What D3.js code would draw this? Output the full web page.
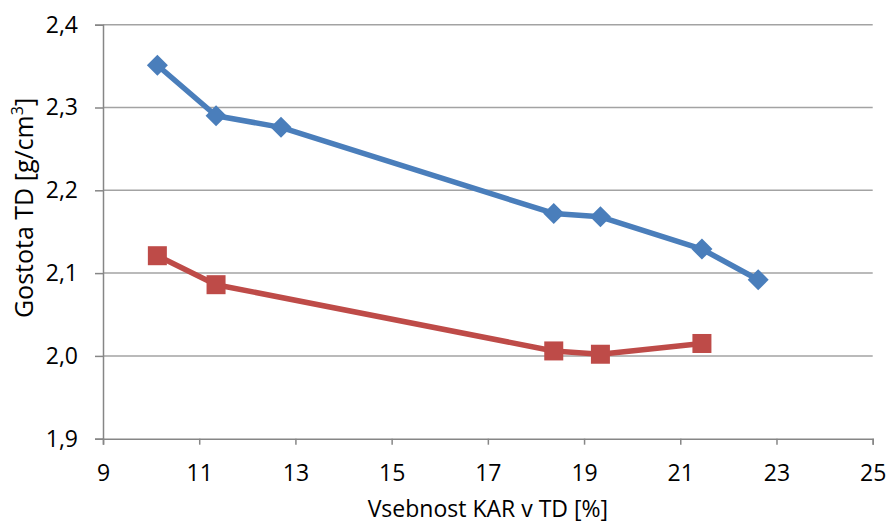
<!DOCTYPE html>
<html>
<head>
<meta charset="utf-8">
<script src="https://cdn.jsdelivr.net/npm/d3@7"></script>
<style>
  html, body { margin: 0; padding: 0; background: #fff; }
  svg { display: block; }
  text { font-family: "Open Sans", "Noto Sans", sans-serif; fill: #000; }
</style>
</head>
<body>
<svg id="chart" width="888" height="525"></svg>
<script>
// KAR content in TD [%] and density [g/cm3]
const seriesAX = [10.13, 11.35, 12.70, 18.37, 19.34, 21.45, 22.62];
const seriesAY = [2.351, 2.290, 2.276, 2.172, 2.168, 2.129, 2.092];
const seriesBX = [10.13, 11.35, 18.37, 19.34, 21.45];
const seriesBY = [2.121, 2.086, 2.006, 2.002, 2.015];
const xTicks = [9, 11, 13, 15, 17, 19, 21, 23, 25];
const yTicks = [1.9, 2.0, 2.1, 2.2, 2.3, 2.4];
const xTitle = "Vsebnost KAR v TD [%]";
const yTitle = "Gostota TD [g/cm";

const margin = { top: 24.7, right: 15.3, bottom: 86.3, left: 103 };
const W = 888, H = 525;
const iw = W - margin.left - margin.right;
const ih = H - margin.top - margin.bottom;

const svg = d3.select("#chart");
const g = svg.append("g").attr("transform", `translate(${margin.left},${margin.top})`);

const x = d3.scaleLinear().domain([9, 25]).range([0, iw]);
const y = d3.scaleLinear().domain([1.9, 2.4]).range([ih, 0]);
const fmt = d => d3.format(".1f")(d).replace(".", ",");

// horizontal gridlines
g.append("g").selectAll("line")
  .data(yTicks.filter(t => t > 1.9))
  .join("line")
  .attr("x1", 0).attr("x2", iw)
  .attr("y1", d => y(d)).attr("y2", d => y(d))
  .attr("stroke", "#a3a3a3").attr("stroke-width", 1.5);

// y axis
const yAxis = g.append("g")
  .call(d3.axisLeft(y).tickValues(yTicks).tickFormat(fmt).tickSize(8).tickPadding(17));
yAxis.select(".domain").attr("stroke", "#868686").attr("stroke-width", 1.5);
yAxis.selectAll(".tick line").attr("stroke", "#868686").attr("stroke-width", 1.5);
yAxis.selectAll(".tick text").attr("font-size", 23).attr("font-family", "Open Sans").attr("fill", "#000");

// x axis
const xAxis = g.append("g").attr("transform", `translate(0,${ih})`)
  .call(d3.axisBottom(x).tickValues(xTicks).tickFormat(d3.format("d")).tickSize(6).tickPadding(20));
xAxis.select(".domain").attr("stroke", "#868686").attr("stroke-width", 1.5);
xAxis.selectAll(".tick line").attr("stroke", "#868686").attr("stroke-width", 1.5);
xAxis.selectAll(".tick text").attr("font-size", 23).attr("font-family", "Open Sans").attr("fill", "#000");

// series
const line = d3.line().x(d => x(d[0])).y(d => y(d[1]));
const dataA = d3.zip(seriesAX, seriesAY);
const dataB = d3.zip(seriesBX, seriesBY);

g.append("path").datum(dataA)
  .attr("d", line).attr("fill", "none")
  .attr("stroke", "#4a7ebb").attr("stroke-width", 5.5).attr("stroke-linejoin", "round");
g.append("path").datum(dataB)
  .attr("d", line).attr("fill", "none")
  .attr("stroke", "#be4b48").attr("stroke-width", 5.5).attr("stroke-linejoin", "round");

// diamond markers (half-diagonal r)
const r = 10.5;
const diamond = `M0,${-r}L${r},0L0,${r}L${-r},0Z`;
g.append("g").selectAll("path").data(dataA).join("path")
  .attr("d", diamond)
  .attr("transform", d => `translate(${x(d[0])},${y(d[1])})`)
  .attr("fill", "#4a7ebb");

// square markers
const s = 19;
g.append("g").selectAll("rect").data(dataB).join("rect")
  .attr("x", d => x(d[0]) - s / 2).attr("y", d => y(d[1]) - s / 2)
  .attr("width", s).attr("height", s)
  .attr("fill", "#be4b48");

// axis titles
svg.append("text")
  .attr("x", margin.left + iw / 2).attr("y", 517)
  .attr("text-anchor", "middle").attr("font-size", 23)
  .text(xTitle);

const yt = svg.append("text")
  .attr("transform", `translate(33,208) rotate(-90)`)
  .attr("text-anchor", "middle").attr("font-size", 25);
yt.append("tspan").text(yTitle);
yt.append("tspan").attr("font-size", 16).attr("dy", -10).text("3");
yt.append("tspan").attr("dy", 10).text("]");
</script>
</body>
</html>
